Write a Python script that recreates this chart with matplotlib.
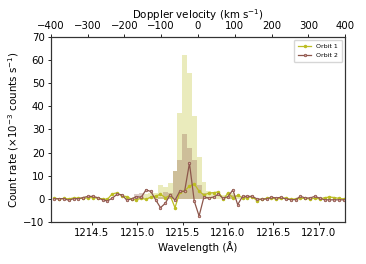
import numpy as np
import matplotlib
matplotlib.use("Agg")
import matplotlib.pyplot as plt

LYA = 1215.67
C_KMS = 299792.458

# wavelength grid (Å)
wave_start = 1214.086
wave_step = 0.0532
n_pts = 61
wavelength = np.round(wave_start + wave_step * np.arange(n_pts), 4)

# Orbit 1 line (x10^-3 counts/s)
orbit1 = [0.3, 0.0, 0.2, 0.0, 0.4, 0.3, 0.2, 0.5, 0.6, 0.3, 0.0, -0.2,
          2.2, 2.6, 1.3, 1.0, -0.1, -0.4, 0.3, -0.2, 0.8, 1.2, 2.0, 0.5,
          1.5, -3.8, 2.8, 3.5, 5.5, 6.5, 3.3, 1.7, 2.5, 2.7, 3.0, -0.1,
          2.5, 0.5, 1.5, 0.5, 0.5, 1.0, -0.8, 0.0, 0.2, 0.3, 0.0, 0.2,
          0.4, -0.2, 0.0, 0.3, 0.2, 0.0, 0.3, 0.0, 0.5, 0.8, 0.6, 0.2, 0.0]

# Orbit 2 line
orbit2 = [0.0, 0.1, 0.1, -0.6, 0.1, 0.1, 0.6, 1.1, 1.1, 0.5, -0.4, -0.9,
          0.3, 2.0, 1.8, -0.5, 0.0, 1.0, 0.7, 3.9, 3.2, -0.4, -3.8, -1.9,
          1.8, -0.6, 3.3, 3.3, 15.4, -1.0, -7.4, 0.8, 0.4, 0.8, 2.0, 0.2,
          1.0, 3.9, -2.5, 1.1, 1.1, 1.1, 0.0, -0.2, 0.0, 0.7, 0.4, 0.7,
          -0.1, -0.3, -0.3, 1.1, 0.4, 0.4, 1.1, 0.3, -0.4, -0.4, -0.4, -0.4, -0.4]

# Histogram bars (gross count rate)
bars1 = [0, 0, 0, 0, 0, 0, 0, 0, 0, 0, 0, 0,
         0, 0, 0, 0, 0, 0, 1.0, 2.0, 2.5, 2.5, 6.0, 5.3,
         7.0, 12.0, 37.0, 62.0, 54.5, 36.0, 18.0, 7.5, 3.5, 3.0, 2.0, 1.5,
         2.5, 2.5, 1.5, 0, 0, 0, 0, 0, 0, 0, 0, 0,
         0, 0, 0, 0, 0, 0, 0, 0, 0, 0, 0, 0, 0]
bars2 = [0, 0, 0, 0, 0, 0, 0, 0, 0, 0, 0, 0,
         0, 0, 0, 0, 0, 2.0, 2.5, 0, 0, 0, 1.0, 3.0,
         2.5, 12.0, 16.8, 28.0, 22.0, 17.0, 6.0, 2.5, 1.0, 0, 0, 0,
         0, 1.5, 0, 0, 0, 0, 0, 0, 0, 0, 0, 0,
         0, 0, 0, 0, 0, 0, 0, 0, 0, 0, 0, 0, 0]

vel_ticks = [-400, -300, -200, -100, 0, 100, 200, 300, 400]
wave_ticks = [1214.5, 1215.0, 1215.5, 1216.0, 1216.5, 1217.0]

c1 = "#bcbd22"
c2 = "#8c564b"

fig = plt.figure(figsize=(3.66, 2.64), dpi=100)
ax = fig.add_axes([0.139, 0.159, 0.804, 0.701])

ax.bar(wavelength, bars1, width=wave_step, color=c1, alpha=0.3, linewidth=0)
ax.bar(wavelength, bars2, width=wave_step, color=c2, alpha=0.3, linewidth=0)
ax.plot(wavelength, orbit1, color=c1, lw=0.9, marker='.', ms=3, label="Orbit 1")
ax.plot(wavelength, orbit2, color=c2, lw=0.9, marker='.', ms=3.5,
        mfc="#d9a0a0", mec=c2, mew=0.6, label="Orbit 2")

xmin = LYA * (1 - 400 / C_KMS)
xmax = LYA * (1 + 400 / C_KMS)
ax.set_xlim(xmin, xmax)
ax.set_ylim(-10, 70)
ax.set_xticks(wave_ticks)
ax.set_xticklabels([f"{w:.1f}" for w in wave_ticks])
ax.set_yticks(range(-10, 71, 10))
ax.tick_params(labelsize=7.3, length=2.5, width=0.6, pad=2)
ax.set_xlabel("Wavelength (Å)", fontsize=7.4, labelpad=2)
ax.set_ylabel("Count rate (×10$^{-3}$ counts s$^{-1}$)", fontsize=7.4, labelpad=2)

ax2 = ax.twiny()
ax2.set_xlim(-400, 400)
ax2.set_xticks(vel_ticks)
ax2.tick_params(labelsize=7.3, length=2.5, width=0.6, pad=1.5)
ax2.set_xlabel("Doppler velocity (km s$^{-1}$)", fontsize=7.4, labelpad=2)

for a in (ax, ax2):
    for s in a.spines.values():
        s.set_linewidth(0.8)
        s.set_color("#333333")

ax.legend(loc="upper right", fontsize=4.5, handlelength=2.2, borderpad=0.6,
          labelspacing=0.6, framealpha=0.8)

fig.savefig("out.png", dpi=100)
